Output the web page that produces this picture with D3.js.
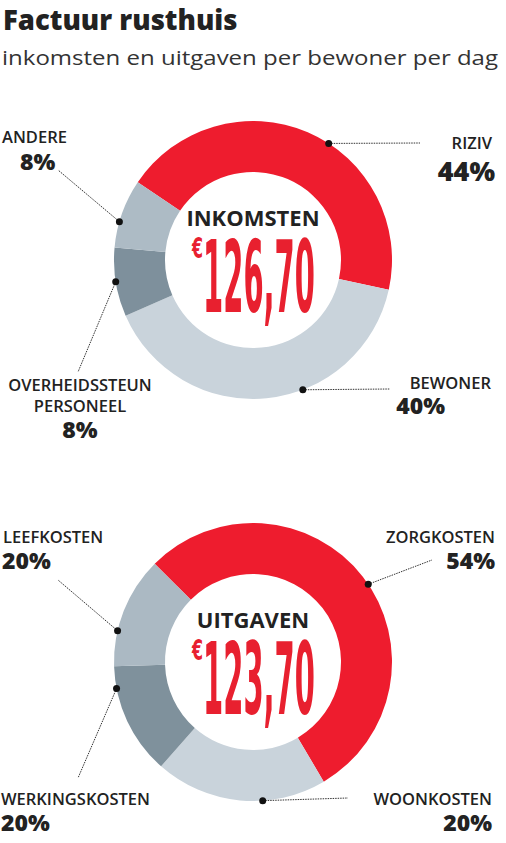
<!DOCTYPE html>
<html><head><meta charset="utf-8">
<script src="https://cdn.jsdelivr.net/npm/d3@7"></script>
<style>
body{margin:0;background:#fff;}
svg{display:block;font-family:"Open Sans",sans-serif;}
</style></head>
<body><svg id="chart" width="506" height="843"></svg>
<script>
// inkomsten
var incomeCats = ["RIZIV", "BEWONER", "OVERHEIDSSTEUN PERSONEEL", "ANDERE"];
var incomeVals = [44, 40, 8, 8];
var incomeLabels = ["44%", "40%", "8%", "8%"];
// uitgaven (slice sizes as drawn, labels as printed)
var costCats = ["ZORGKOSTEN", "WOONKOSTEN", "WERKINGSKOSTEN", "LEEFKOSTEN"];
var costVals = [54, 20, 13, 13];
var costLabels = ["54%", "20%", "20%", "20%"];

var svg = d3.select("#chart");

svg.append("text").attr("x", 3).attr("y", 30)
	.style("font-size", "27.5px").style("font-weight", 800).style("fill", "#222")
	.text("Factuur rusthuis");
svg.append("text").attr("x", 2).attr("y", 65)
	.attr("textLength", 496).attr("lengthAdjust", "spacingAndGlyphs")
	.style("font-size", "20.5px").style("fill", "#333")
	.text("inkomsten en uitgaven per bewoner per dag");

function donut(cy, vals, colors, startDeg, title, amount, labels){
	let g = svg.append("g").attr("transform", "translate(253," + cy + ")");
	let pie = d3.pie().sort(null).value(d => d)
		.startAngle(startDeg * Math.PI / 180)
		.endAngle((startDeg + 360) * Math.PI / 180);
	let arc = d3.arc().innerRadius(88).outerRadius(139);
	g.selectAll("path").data(pie(vals)).enter().append("path")
		.attr("d", arc).attr("fill", (d, i) => colors[i]);

	g.append("text").attr("y", -34).attr("text-anchor", "middle")
		.style("font-size", "22px").style("font-weight", 700).style("fill", "#222")
		.text(title);
	g.append("text").attr("x", -61).attr("y", -2)
		.attr("textLength", 11).attr("lengthAdjust", "spacingAndGlyphs")
		.style("font-family", "'Liberation Sans Narrow','DejaVu Sans Condensed',sans-serif")
		.style("font-size", "28px").style("font-weight", 700).style("fill", "#e8202f")
		.text("€");
	g.append("text").attr("x", -50).attr("y", 52)
		.attr("textLength", 112).attr("lengthAdjust", "spacingAndGlyphs")
		.style("font-family", "'Liberation Sans Narrow','DejaVu Sans Condensed',sans-serif")
		.style("font-size", "100px").style("font-weight", 700).style("fill", "#e8202f")
		.text(amount);

	labels.forEach(function(l){
		let a = l.ang * Math.PI / 180;
		let dx = Math.sin(a) * 139, dy = -Math.cos(a) * 139;
		g.append("line").attr("x1", dx).attr("y1", dy)
			.attr("x2", l.lx - 253).attr("y2", l.ly - cy)
			.attr("stroke", "#333").attr("stroke-width", 1).attr("stroke-dasharray", "1.5,1");
		g.append("circle").attr("cx", dx).attr("cy", dy).attr("r", 3.5).attr("fill", "#111");
		l.lines.forEach(function(s, k){
			svg.append("text").attr("x", l.tx).attr("y", l.ty + k * 21)
				.attr("text-anchor", l.anchor)
				.style("font-size", "16.5px").style("font-weight", 600).style("fill", "#222")
				.text(s);
		});
		svg.append("text").attr("x", l.px).attr("y", l.py).attr("text-anchor", l.anchor)
			.style("font-size", l.big ? "27px" : "23px").style("font-weight", 800).style("fill", "#222")
			.text(l.pct);
	});
}

var grays1 = ["#ee1c2e", "#c9d3db", "#7e909c", "#adbbc5"];
donut(260, incomeVals, grays1, -56, "INKOMSTEN", "126,70", [
	{ang: 33, lx: 420, ly: 143, tx: 492, ty: 149, anchor: "end", lines: [incomeCats[0]], px: 495, py: 181, pct: incomeLabels[0], big: true},
	{ang: 159, lx: 390, ly: 389, tx: 491, ty: 389, anchor: "end", lines: [incomeCats[1]], px: 445, py: 414, pct: incomeLabels[1]},
	{ang: 261, lx: 78, ly: 372, tx: 80, ty: 391, anchor: "middle", lines: ["OVERHEIDSSTEUN", "PERSONEEL"], px: 80, py: 438, pct: incomeLabels[2]},
	{ang: 286, lx: 58, ly: 170, tx: 2, ty: 143, anchor: "start", lines: [incomeCats[3]], px: 20, py: 170, pct: incomeLabels[3]}
]);

var grays2 = ["#ee1c2e", "#c9d3db", "#7f919c", "#abb9c3"];
donut(662, costVals, grays2, -45, "UITGAVEN", "123,70", [
	{ang: 56, lx: 432, ly: 560, tx: 495, ty: 543, anchor: "end", lines: [costCats[0]], px: 495, py: 569, pct: costLabels[0]},
	{ang: 176, lx: 348, ly: 798, tx: 492, ty: 805, anchor: "end", lines: [costCats[1]], px: 492, py: 831, pct: costLabels[1]},
	{ang: 259, lx: 78, ly: 778, tx: 1, ty: 805, anchor: "start", lines: [costCats[2]], px: 1, py: 831, pct: costLabels[2]},
	{ang: 283, lx: 58, ly: 580, tx: 3, ty: 543, anchor: "start", lines: [costCats[3]], px: 2, py: 569, pct: costLabels[3]}
]);
</script></body></html>
